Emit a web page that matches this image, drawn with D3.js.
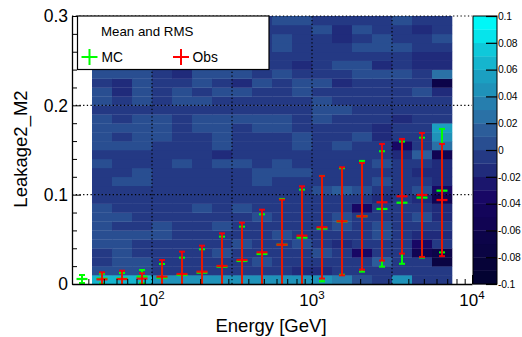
<!DOCTYPE html>
<html><head><meta charset="utf-8">
<script src="https://cdn.jsdelivr.net/npm/d3@7"></script>
<style>body{margin:0;background:#fff}svg{display:block;font-family:"Liberation Sans",Arial,Helvetica,sans-serif}</style>
</head><body><svg id="c" width="522" height="337"></svg>
<script>
// ---------- data ----------
const energyBinEdges = [31.62, 42.17, 56.23, 74.99, 100, 133.35, 177.83, 237.14, 316.23, 421.70, 562.34, 749.89, 1000, 1333.52, 1778.28, 2371.37, 3162.28, 4216.97, 5623.41, 7498.94, 10000];
const leakageBinEdges = [0,0.01,0.02,0.03,0.04,0.05,0.06,0.07,0.08,0.09,0.1,0.11,0.12,0.13,0.14,0.15,0.16,0.17,0.18,0.19,0.2,0.21,0.22,0.23,0.24,0.25,0.26,0.27,0.28,0.29,0.3];
const xTickValues = [100, 1000, 10000];
const xTickExponents = ["2", "3", "4"];
const xMinorTicks = [40,50,60,70,80,90,200,300,400,500,600,700,800,900,2000,3000,4000,5000,6000,7000,8000,9000];
const xGridValues = [100, 316.23, 1000, 3162.28];
const yTickValues = [0, 0.1, 0.2, 0.3];
const yTickLabels = ["0", "0.1", "0.2", "0.3"];
const yMinorTicks = [0.02,0.04,0.06,0.08,0.12,0.14,0.16,0.18,0.22,0.24,0.26,0.28];
const yGridValues = [0.1, 0.2, 0.3];
const zTickValues = [0.1, 0.08, 0.06, 0.04, 0.02, 0, -0.02, -0.04, -0.06, -0.08, -0.1];
const zTickLabels = ["0.1", "0.08", "0.06", "0.04", "0.02", "0", "-0.02", "-0.04", "-0.06", "-0.08", "-0.1"];
const zLevels = [-0.1,-0.09,-0.08,-0.07,-0.06,-0.05,-0.04,-0.03,-0.02,-0.01,0,0.01,0.02,0.03,0.04,0.05,0.06,0.07,0.08,0.09,0.1];

// Obs - MC map: one array per energy bin (bins 2..19), bottom row first
const M = -0.005, L = 0.005, D = -0.015, P = 0.015;
const diffMap = [
  [0.065,L,M,M,L,L,L,L,L,M,M,M,M,L,M,L,L,L,L,M,L,L,M,L,M,M,M,M,M,M],
  [0.065,L,L,L,L,L,M,L,M,M,M,L,M,M,M,L,M,L,M,M,M,D,D,L,M,M,M,M,M,M],
  [0.065,L,L,M,M,L,M,M,M,M,M,L,L,M,M,L,L,L,L,M,L,L,L,L,M,M,M,M,M,M],
  [0.045,M,M,M,M,L,L,M,M,M,M,M,M,M,M,M,L,L,L,M,M,M,M,M,M,M,M,M,M,M],
  [0.045,M,M,M,M,M,M,M,M,M,M,M,M,L,M,M,M,M,M,M,L,L,M,D,M,M,M,M,M,M],
  [0.045,M,M,M,M,M,M,M,L,M,M,M,M,M,M,M,M,L,L,M,L,M,L,L,M,M,M,M,M,M],
  [0.045,M,M,L,M,M,L,M,M,M,M,M,M,L,D,L,L,L,L,M,M,L,M,L,M,M,M,M,M,M],
  [0.045,M,M,M,L,M,M,M,L,M,M,M,M,L,M,M,M,M,L,M,M,L,D,L,M,M,M,M,M,M],
  [0.045,M,L,M,M,M,M,L,M,M,M,L,L,M,M,M,M,L,L,M,M,M,L,M,M,M,M,M,M,M],
  [0.045,M,M,M,M,L,M,M,M,M,M,M,L,L,M,M,M,L,L,M,M,M,M,L,M,M,L,L,M,L],
  [0.045,D,M,M,L,M,M,M,M,M,M,M,L,M,M,L,L,M,M,M,M,L,L,M,D,M,M,M,M,L],
  [0.045,D,M,L,M,M,M,M,M,M,L,M,M,M,M,M,M,M,L,L,L,M,L,M,M,M,M,M,L,M],
  [0.035,M,M,M,D,M,L,L,M,M,P,M,M,M,M,L,M,M,M,L,M,M,D,M,L,M,M,D,D,M],
  [0.005,M,M,-0.035,M,M,M,M,-0.035,M,L,M,M,M,M,M,L,M,M,M,M,M,M,L,L,M,L,M,L,M],
  [M,M,P,M,M,L,L,M,M,D,M,L,M,L,M,M,D,D,M,M,M,M,M,L,D,M,L,L,M,M],
  [0.045,M,M,M,M,M,M,M,M,M,M,M,M,M,D,-0.035,M,M,D,M,M,M,M,L,M,M,L,M,M,L],
  [M,M,M,-0.055,-0.035,D,M,L,M,D,L,M,D,M,P,M,M,M,M,M,M,L,M,M,D,D,M,M,D,M],
  [M,M,-0.075,-0.065,M,D,M,D,D,-0.055,-0.035,D,D,D,-0.055,0.025,0.045,0.055,M,M,M,D,-0.065,0.025,D,D,M,L,M,M]
];
const mapFirstBin = 1; // index into energy bins

// Mean and RMS per energy bin (bins 1..19)
const mcMean  = [0.0056,0.006,0.006,0.0082,0.007,0.0101,0.0127,0.0194,0.0258,0.0336,0.044,0.0519,0.062,0.070,0.0758,0.084,0.091,0.0967,0.1045];
const mcRMS   = [0.0045,0.0055,0.0063,0.0075,0.0154,0.0194,0.0261,0.0336,0.0384,0.0444,0.0512,0.0537,0.059,0.0596,0.062,0.0646,0.0684,0.0671,0.0691];
const obsMean = [null,0.0052,0.0055,0.006,0.0082,0.0112,0.0138,0.0202,0.0269,0.0355,0.044,0.0541,0.0635,0.0702,0.0758,0.0915,0.0982,0.0997,0.094];
const obsRMS  = [null,0.0079,0.0094,0.006,0.0187,0.025,0.0291,0.0365,0.0418,0.0477,0.0504,0.0553,0.0574,0.0605,0.0597,0.0653,0.0642,0.0694,0.0628];

// palette (deep sea) stops
const paletteStops = [0, 0.34, 0.61, 0.84, 1];
const paletteColors = ["#00032b", "#170563", "#2e639e", "#17adc9", "#00f7f7"];

// ---------- chart ----------
const svg = d3.select("#c");
const X0 = 72, X1 = 472, Y0 = 284, Y1 = 16;
const x = d3.scaleLog().domain([energyBinEdges[0], energyBinEdges[energyBinEdges.length-1]]).range([X0, X1]);
const y = d3.scaleLinear().domain([0, 0.3]).range([Y0, Y1]);
const z = d3.scaleLinear().domain([-0.1, 0.1]).range([Y0, Y1]);
const palette = d3.scaleLinear().domain(paletteStops).range(paletteColors).interpolate(d3.interpolateRgb);
const nBands = zLevels.length - 1;
function bandColor(i){ return palette(Math.floor((i + 0.99) * 50 / nBands) / 49); }
function valueColor(v){
  let i = Math.floor((v - zLevels[0]) / (zLevels[1]-zLevels[0]) + 1e-6);
  i = Math.max(0, Math.min(nBands-1, i));
  return bandColor(i);
}

svg.append("defs").append("clipPath").attr("id","pc")
  .append("rect").attr("x",X0).attr("y",Y1).attr("width",X1-X0).attr("height",Y0-Y1);

// heatmap
const cells = [];
diffMap.forEach((col, ci) => {
  const b = ci + mapFirstBin;
  col.forEach((v, k) => cells.push({x0: energyBinEdges[b], x1: energyBinEdges[b+1], y0: leakageBinEdges[k], y1: leakageBinEdges[k+1], v}));
});
svg.append("g").selectAll("rect").data(cells).join("rect")
  .attr("x", d => x(d.x0)).attr("y", d => y(d.y1))
  .attr("width", d => x(d.x1) - x(d.x0) + 0.3).attr("height", d => y(d.y0) - y(d.y1) + 0.3)
  .attr("fill", d => valueColor(d.v));

// grid
const grid = svg.append("g").attr("stroke","#000").attr("stroke-width",1.2).attr("stroke-dasharray","1.3,2.4");
grid.selectAll(".gx").data(xGridValues).join("line").attr("x1",d=>x(d)).attr("x2",d=>x(d)).attr("y1",Y0).attr("y2",Y1);
grid.selectAll(".gy").data(yGridValues).join("line").attr("y1",d=>y(d)).attr("y2",d=>y(d)).attr("x1",X0).attr("x2",X1);

// error bars
const centers = energyBinEdges.slice(0,-1).map((e,i)=>Math.sqrt(e*energyBinEdges[i+1]));
function drawSeries(means, rms, color, opacity){
  const g = svg.append("g").attr("clip-path","url(#pc)").attr("stroke",color).attr("stroke-opacity",opacity).attr("fill","none");
  means.forEach((m,i)=>{
    if (m === null) return;
    const cx = x(centers[i]);
    const top = m + rms[i], bot = m - rms[i];
    g.append("line").attr("x1",cx).attr("x2",cx).attr("y1",y(Math.max(bot,-0.01))).attr("y2",y(top)).attr("stroke-width",2);
    g.append("line").attr("x1",cx-3).attr("x2",cx+3).attr("y1",y(top)).attr("y2",y(top)).attr("stroke-width",2);
    if (bot > 0) g.append("line").attr("x1",cx-3).attr("x2",cx+3).attr("y1",y(bot)).attr("y2",y(bot)).attr("stroke-width",2);
    g.append("line").attr("x1",cx-5.5).attr("x2",cx+5.5).attr("y1",y(m)).attr("y2",y(m)).attr("stroke-width",2.2);
  });
}
drawSeries(mcMean, mcRMS, "#00ff00", 1);
drawSeries(obsMean, obsRMS, "#ff0000", 0.9);

// axes
svg.append("g").attr("transform",`translate(0,${Y0})`)
  .call(d3.axisBottom(x).tickValues(xTickValues).tickSize(-9).tickSizeOuter(0).tickFormat(""));
svg.append("g").attr("transform",`translate(0,${Y0})`)
  .call(d3.axisBottom(x).tickValues(xMinorTicks).tickSize(-5).tickSizeOuter(0).tickFormat(""))
  .select(".domain").remove();
svg.append("g").attr("transform",`translate(${X0},0)`)
  .call(d3.axisLeft(y).tickValues(yTickValues).tickSize(-9).tickSizeOuter(0).tickFormat(""));
svg.append("g").attr("transform",`translate(${X0},0)`)
  .call(d3.axisLeft(y).tickValues(yMinorTicks).tickSize(-5).tickSizeOuter(0).tickFormat(""))
  .select(".domain").remove();
svg.selectAll(".domain").attr("stroke","#000").attr("stroke-width",1.3);
svg.selectAll(".tick line").attr("stroke","#000");

// x labels
const xl = svg.append("g").attr("font-size",17).attr("fill","#000").attr("text-anchor","middle");
xTickValues.forEach((v,i)=>{
  const t = xl.append("text").attr("x", x(v)).attr("y", 306);
  t.append("tspan").text("10");
  t.append("tspan").attr("font-size",11.5).attr("dy",-7).text(xTickExponents[i]);
});
// y labels
svg.append("g").attr("font-size",17.5).attr("text-anchor","end").selectAll("text").data(yTickValues).join("text")
  .attr("x", 68).attr("y", d=>y(d)).attr("dy","0.36em").text((d,i)=>yTickLabels[i]);
// titles
svg.append("text").attr("x", (X0+X1)/2 - 1).attr("y", 332).attr("text-anchor","middle").attr("font-size",18.5).text("Energy [GeV]");
svg.append("text").attr("transform","translate(27,149) rotate(-90)").attr("text-anchor","middle").attr("font-size",18.5).text("Leakage2_M2");

// color bar
const cb = svg.append("g");
const bands = zLevels.slice(0,-1).map((lv,i)=>({lo:lv, hi:zLevels[i+1], i}));
cb.selectAll("rect").data(bands).join("rect")
  .attr("x",473).attr("width",24).attr("y",d=>z(d.hi)).attr("height",d=>z(d.lo)-z(d.hi)+0.3)
  .attr("fill",d=>bandColor(d.i));
cb.append("rect").attr("x",473).attr("y",Y1).attr("width",24).attr("height",Y0-Y1).attr("fill","none").attr("stroke","#000").attr("stroke-width",1);
cb.append("g").attr("transform","translate(497,0)")
  .call(d3.axisRight(z).tickValues(zTickValues).tickSize(-11).tickSizeOuter(0).tickFormat(""))
  .select(".domain").remove();
cb.selectAll(".tick line").attr("stroke","#000").attr("stroke-width",1.2);
cb.append("g").attr("font-size",10.3).attr("letter-spacing","-0.2").selectAll("text").data(zTickValues).join("text")
  .attr("x",498).attr("y",d=>z(d)).attr("dy","0.36em").text((d,i)=>zTickLabels[i]);

// legend
const lg = svg.append("g");
lg.append("rect").attr("x",77.5).attr("y",16).attr("width",191.5).attr("height",53.5).attr("fill","#fff").attr("stroke","#000").attr("stroke-width",1.2);
lg.append("text").attr("x",101).attr("y",35.5).attr("font-size",13.3).text("Mean and RMS");
function plus(cx, cy, col){
  lg.append("line").attr("x1",cx-8).attr("x2",cx+8).attr("y1",cy).attr("y2",cy).attr("stroke",col).attr("stroke-width",2);
  lg.append("line").attr("x1",cx).attr("x2",cx).attr("y1",cy-8).attr("y2",cy+8).attr("stroke",col).attr("stroke-width",2);
}
plus(89.5, 57, "#00ff00");
lg.append("text").attr("x",101.5).attr("y",62.3).attr("font-size",13.8).text("MC");
plus(181, 57, "#ff0000");
lg.append("text").attr("x",192.5).attr("y",62.3).attr("font-size",13.8).text("Obs");
</script></body></html>
